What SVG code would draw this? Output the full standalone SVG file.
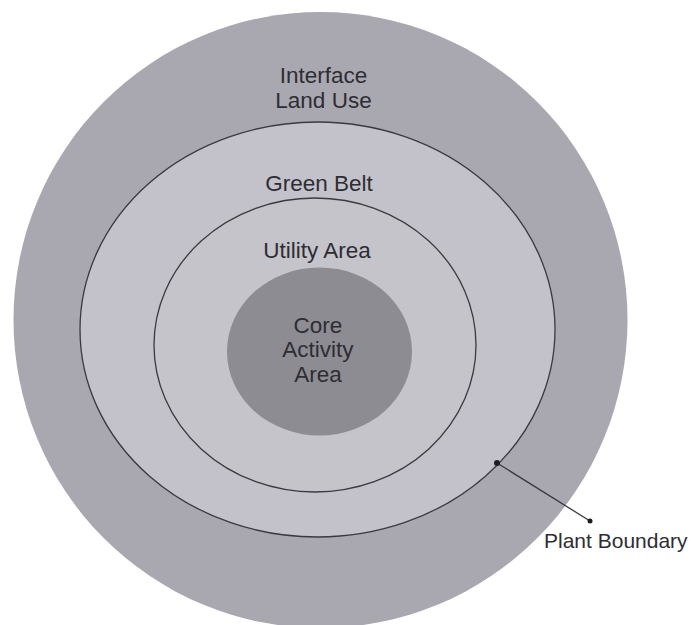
<svg xmlns="http://www.w3.org/2000/svg" width="691" height="625" viewBox="0 0 691 625">
<style>
.lbl{font-family:"Liberation Sans",Arial,sans-serif;font-size:22.5px;fill:#2e2d33;text-anchor:middle}
.ring{stroke:#3a3940;stroke-width:1.3}
</style>
<rect width="691" height="625" fill="#ffffff"/>
<g id="interface">
<ellipse cx="320.5" cy="320" rx="307" ry="308" fill="#a9a8b1"/>
<text class="lbl" x="323.5" y="83">Interface</text>
<text class="lbl" x="323.5" y="108">Land Use</text>
</g>
<g id="green-belt">
<ellipse class="ring" cx="317.5" cy="329.5" rx="237.5" ry="207.5" fill="#c3c2ca"/>
<text class="lbl" x="319" y="191">Green Belt</text>
</g>
<g id="utility">
<ellipse class="ring" cx="315" cy="345" rx="161" ry="147" fill="#c5c4cb"/>
<text class="lbl" x="317" y="258">Utility Area</text>
</g>
<g id="core">
<ellipse cx="319.5" cy="351.5" rx="92.5" ry="84" fill="#8d8c93"/>
<text class="lbl" x="318" y="333">Core</text>
<text class="lbl" x="318" y="357">Activity</text>
<text class="lbl" x="318" y="382">Area</text>
</g>
<g id="connectors">
<line x1="497" y1="463" x2="590" y2="521" stroke="#3a3940" stroke-width="1.3"/>
<circle cx="497" cy="463" r="3" fill="#1e1d22"/>
<circle cx="590" cy="521" r="2.5" fill="#1e1d22"/>
</g>
<g id="plant-boundary">
<text x="544" y="548" style="font-family:'Liberation Sans',Arial,sans-serif;font-size:21px;fill:#2e2d33">Plant Boundary</text>
</g>
</svg>
